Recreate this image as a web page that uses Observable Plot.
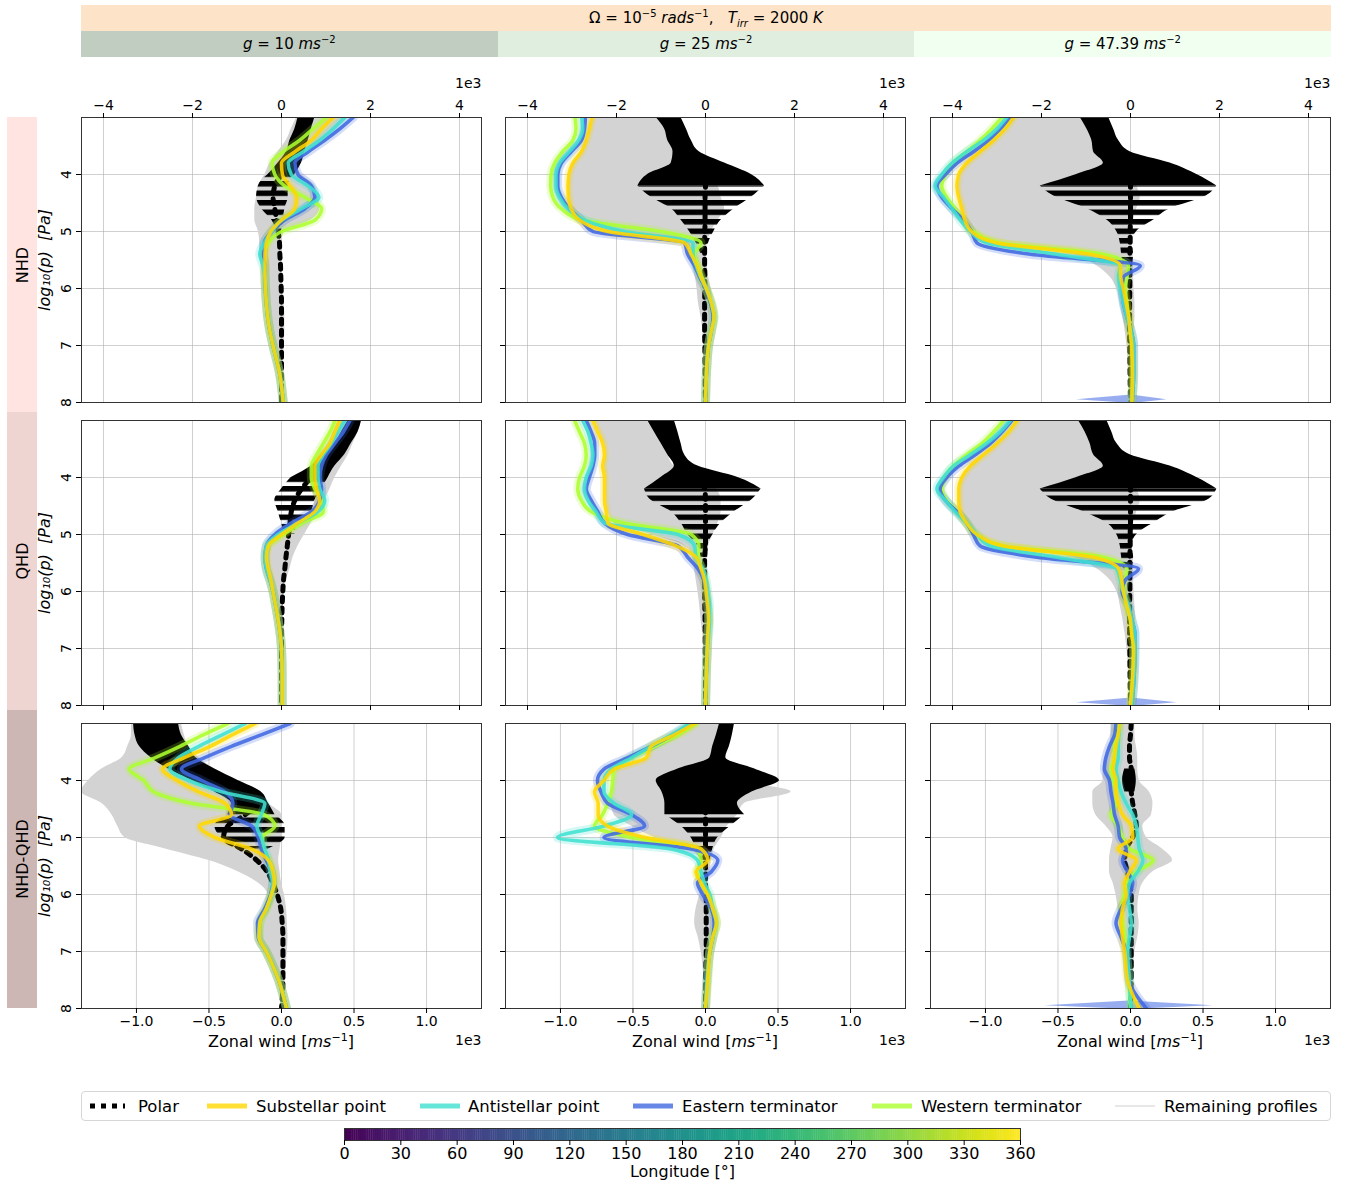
<!DOCTYPE html>
<html><head><meta charset="utf-8">
<script src="https://cdn.jsdelivr.net/npm/d3@7"></script>
<script src="https://cdn.jsdelivr.net/npm/@observablehq/plot@0.6"></script>
<style>
body{margin:0;background:#fff;font-family:"DejaVu Sans",sans-serif;color:#000;}
#root{position:relative;width:1359px;height:1186px;overflow:hidden;background:#fff;}
.band{position:absolute;display:flex;align-items:center;justify-content:center;font-size:15px;}
.band sup,.band sub{font-size:10px;line-height:0;}
.rowlab{position:absolute;left:7px;width:30px;}
.rowlab span{position:absolute;left:50%;top:50%;transform:translate(-50%,-50%) rotate(-90deg);white-space:nowrap;font-size:16px;}
.plotbox{position:absolute;}
.plotbox svg{overflow:visible;}
.xlab{position:absolute;font-size:16px;white-space:nowrap;transform:translateX(-50%);}
.xlab sup{font-size:11px;line-height:0;}
.leg{position:absolute;font-size:16.5px;white-space:nowrap;top:50%;transform:translateY(-50%);}
.sw{position:absolute;top:50%;transform:translateY(-50%);}
</style></head>
<body>
<svg width="0" height="0" style="position:absolute"><defs>
<pattern id="stripes" patternUnits="userSpaceOnUse" width="12" height="9.5"><rect x="0" y="0" width="12" height="5.5" fill="black"/></pattern>
</defs></svg>
<div id="root"></div>
<script>
// ---------- data (zonal wind in m/s, pressure levels in log10(p [Pa])) ----------
const levels = [3.0,3.2,3.4,3.6,3.8,4.0,4.2,4.4,4.6,4.8,5.0,5.2,5.4,5.6,5.8,6.0,6.25,6.5,6.75,7.0,7.5,8.0];

// NHD, g = 10
const nhd_g10_sub   = [1160,900,670,300,0,20,190,340,300,0,-240,-340,-370,-370,-370,-360,-340,-310,-260,-190,-40,40];
const nhd_g10_anti  = [1420,1160,860,490,150,220,600,840,450,0,-220,-390,-490,-410,-370,-360,-340,-310,-260,-190,-40,40];
const nhd_g10_east  = [1610,1310,970,600,300,370,670,750,520,70,-220,-390,-410,-370,-370,-360,-340,-310,-260,-190,-40,40];
const nhd_g10_west  = [1010,710,410,40,-210,-150,70,520,900,750,0,-300,-390,-370,-370,-360,-340,-310,-260,-190,-40,40];
const nhd_g10_polar = [520,450,340,260,150,0,-150,-190,-150,-110,-75,-45,-37,-22,-15,-7,0,0,0,0,0,0];
const nhd_g10_grayLo = [340,220,110,-75,-260,-370,-520,-560,-600,-600,-520,-490,-490,-450,-420,-410,-375,-340,-270,-190,-50,-15];
const nhd_g10_grayHi = [1500,1200,900,520,300,450,750,820,860,670,75,0,0,0,20,40,60,75,75,60,40,40];
const nhd_g10_blackLo = [370,300,190,110,-75,-300,-520,-560,-450,-220,-110,null,null,null,null,null,null,null,null,null,null,null];
const nhd_g10_blackHi = [750,670,600,520,450,300,150,150,75,40,0,null,null,null,null,null,null,null,null,null,null,null];

// NHD, g = 25
const nhd_g25_sub   = [-2550,-2610,-2680,-2790,-2980,-3070,-3090,-3080,-3020,-2830,-2190,-470,-320,-190,-100,15,130,190,130,70,20,0];
const nhd_g25_anti  = [-2780,-2760,-2850,-3060,-3280,-3360,-3360,-3280,-3090,-2720,-1820,-280,-280,-210,-110,15,130,190,130,70,20,0];
const nhd_g25_east  = [-2700,-2720,-2790,-3020,-3240,-3320,-3320,-3240,-3060,-2790,-2530,-470,-400,-250,-130,0,110,170,130,70,20,0];
const nhd_g25_west  = [-2930,-2910,-2980,-3210,-3390,-3470,-3480,-3430,-3240,-2790,-1000,-100,-250,-170,-80,15,130,190,130,70,20,0];
const nhd_g25_polar = [-850,-700,-550,-320,-100,0,0,-10,-10,-10,-15,-20,-20,-20,-15,-15,-20,-20,-20,-15,-10,0];
const nhd_g25_grayLo = [-2550,-2610,-2680,-2790,-2980,-3070,-3090,-3080,-3020,-2830,-2190,-470,-360,-290,-230,-190,-160,-100,-60,-40,-30,0];
const nhd_g25_grayHi = [-1070,-920,-810,-700,-400,0,280,350,430,280,130,40,20,40,70,130,160,190,130,70,20,0];
const nhd_g25_blackLo = [-1110,-920,-850,-730,-770,-1300,-1520,-1220,-770,-550,-360,-210,-100,null,null,null,null,null,null,null,null,null];
const nhd_g25_blackHi = [-550,-430,-320,-140,430,1030,1330,1030,650,350,190,70,20,null,null,null,null,null,null,null,null,null];

// NHD, g = 47.39
const nhd_g47_sub   = [-2630,-2820,-3080,-3380,-3680,-3860,-3900,-3860,-3790,-3720,-3570,-3000,-910,-230,-220,-160,-100,-45,-7,30,45,30];
const nhd_g47_anti  = [-2780,-3000,-3300,-3680,-4010,-4240,-4390,-4200,-4010,-3820,-3600,-3230,-1660,-230,-270,-230,-160,-80,15,70,70,30];
const nhd_g47_east  = [-2700,-2930,-3190,-3530,-3900,-4160,-4350,-4240,-4010,-3750,-3570,-3450,-2250,220,-160,-190,-160,-80,15,70,70,30];
const nhd_g47_west  = [-2890,-3120,-3380,-3680,-3980,-4160,-4240,-4130,-3940,-3750,-3530,-2930,-610,-45,-80,-120,-80,-45,-7,30,45,30];
const nhd_g47_polar = [-830,-680,-570,-310,-80,0,0,0,0,0,-7,-7,-15,-15,-15,-15,-20,-20,-20,-15,-10,0];
const nhd_g47_grayLo = [-2630,-2820,-3080,-3380,-3680,-3860,-3900,-3860,-3790,-3720,-3570,-3000,-1300,-760,-460,-310,-230,-170,-120,-80,-45,0];
const nhd_g47_grayHi = [-1090,-940,-830,-750,-310,0,140,220,140,70,30,30,60,70,70,80,100,100,80,80,70,30];
const nhd_g47_blackLo = [-1130,-980,-870,-830,-610,-1210,-2030,-1660,-980,-530,-310,-230,-200,-160,null,null,null,null,null,null,null,null];
const nhd_g47_blackHi = [-490,-380,-270,-10,890,1490,1940,1640,890,520,140,30,70,30,null,null,null,null,null,null,null,null];
const nhd_g47_spikeLo = [20,-1210,-300];
const nhd_g47_spikeHi = [20,820,250];

// QHD, g = 10
const qhd_g10_sub   = [1310,1200,1090,900,750,750,790,860,750,370,0,-300,-340,-300,-240,-190,-130,-75,-30,0,15,15];
const qhd_g10_anti  = [1420,1270,1120,940,820,820,860,970,820,370,-75,-340,-370,-340,-260,-190,-130,-75,-30,0,15,15];
const qhd_g10_east  = [1540,1390,1200,1010,900,860,900,860,670,220,-150,-340,-370,-340,-260,-190,-130,-75,-30,0,15,15];
const qhd_g10_west  = [1200,1090,940,790,670,670,750,900,940,450,40,-300,-370,-340,-260,-190,-130,-75,-30,0,15,15];
const qhd_g10_polar = [1650,1500,1350,1120,900,670,450,300,220,190,160,130,100,75,45,30,15,7,0,0,0,0];
const qhd_g10_grayLo = [1270,1160,1050,860,670,640,670,750,670,300,-75,-340,-390,-340,-260,-190,-110,-60,-22,0,0,0];
const qhd_g10_grayHi = [1800,1720,1610,1500,1350,1200,1090,970,860,670,520,370,260,190,110,75,40,20,0,0,15,15];
const qhd_g10_blackLo = [1500,1350,1200,900,670,220,0,-150,-75,0,75,null,null,null,null,null,null,null,null,null,null,null];
const qhd_g10_blackHi = [1800,1720,1570,1420,1200,1050,900,750,670,370,300,null,null,null,null,null,null,null,null,null,null,null];

// QHD, g = 25
const qhd_g25_sub   = [-2530,-2420,-2310,-2270,-2310,-2270,-2270,-2270,-2230,-2190,-1400,-660,-210,-100,-22,15,50,70,50,40,15,0];
const qhd_g25_anti  = [-2760,-2640,-2570,-2530,-2570,-2680,-2720,-2640,-2460,-2270,-620,-250,-210,-60,15,50,90,90,70,40,15,0];
const qhd_g25_east  = [-2680,-2570,-2490,-2490,-2530,-2610,-2680,-2570,-2420,-2270,-1750,-620,-400,-170,-40,15,50,70,50,40,15,0];
const qhd_g25_west  = [-2940,-2830,-2720,-2680,-2720,-2830,-2870,-2790,-2570,-1820,-320,-150,-170,-100,-22,15,50,70,50,40,15,0];
const qhd_g25_polar = [-1000,-880,-770,-660,-430,-170,-20,0,0,0,0,0,-20,-20,-20,-20,-15,-10,-7,-7,0,0];
const qhd_g25_grayLo = [-2490,-2380,-2270,-2230,-2270,-2230,-2230,-2230,-2190,-2050,-1220,-470,-290,-250,-210,-170,-130,-100,-60,-40,-20,0];
const qhd_g25_grayHi = [-1300,-1150,-1000,-850,-700,0,250,350,350,280,170,70,40,50,70,90,110,90,70,40,15,0];
const qhd_g25_blackLo = [-1300,-1150,-1000,-850,-700,-1000,-1370,-1220,-770,-550,-400,-170,-100,null,null,null,null,null,null,null,null,null];
const qhd_g25_blackHi = [-700,-620,-550,-470,-170,730,1250,1030,650,350,170,50,50,null,null,null,null,null,null,null,null,null];

// QHD, g = 47.39
const qhd_g47_sub   = [-2550,-2740,-3000,-3300,-3600,-3790,-3860,-3860,-3830,-3680,-3450,-2850,-830,-270,-200,-160,-80,0,30,70,50,0];
const qhd_g47_anti  = [-2700,-2930,-3230,-3600,-3980,-4200,-4350,-4160,-3940,-3680,-3450,-3150,-1660,-310,-230,-160,-45,30,100,100,80,30];
const qhd_g47_east  = [-2670,-2890,-3150,-3490,-3860,-4130,-4280,-4160,-3900,-3680,-3530,-3380,-2100,180,-120,-190,-45,30,100,100,80,30];
const qhd_g47_west  = [-2850,-3080,-3340,-3680,-3980,-4160,-4240,-4130,-3900,-3680,-3490,-2850,-610,-80,-120,-160,-80,0,30,70,50,0];
const qhd_g47_polar = [-830,-680,-570,-310,-80,0,0,0,0,0,-7,-7,-15,-15,-15,-15,-20,-20,-20,-15,-10,0];
const qhd_g47_grayLo = [-2550,-2740,-3000,-3300,-3600,-3790,-3860,-3860,-3830,-3680,-3450,-2850,-1300,-760,-460,-310,-230,-170,-120,-80,-45,0];
const qhd_g47_grayHi = [-1130,-980,-870,-750,-310,0,140,220,140,70,30,30,60,70,70,80,100,110,110,100,80,30];
const qhd_g47_blackLo = [-1170,-1020,-910,-830,-610,-1210,-2030,-1730,-1060,-530,-310,-230,-200,-160,null,null,null,null,null,null,null,null];
const qhd_g47_blackHi = [-530,-420,-310,-10,890,1490,1940,1720,960,520,140,30,70,30,null,null,null,null,null,null,null,null];
const qhd_g47_spikeLo = [20,-1210,-300];
const qhd_g47_spikeHi = [20,1040,300];

// NHD-QHD, g = 10
const dif_g10_sub   = [-180,-340,-490,-670,-820,-720,-570,-390,-345,-565,-460,-210,-90,-60,-50,-70,-105,-150,-155,-105,-20,35];
const dif_g10_anti  = [-250,-410,-570,-710,-770,-640,-410,-115,-140,-170,-140,-115,-90,-75,-60,-70,-105,-150,-155,-105,-20,35];
const dif_g10_east  = [60,-140,-345,-530,-690,-550,-390,-335,-355,-205,-160,-140,-105,-70,-60,-75,-115,-165,-160,-105,-20,35];
const dif_g10_west  = [-370,-540,-700,-870,-1050,-950,-880,-620,-120,-45,-130,-130,-90,-60,-50,-70,-105,-150,-155,-105,-20,35];
const dif_g10_polar = [-870,-840,-800,-710,-600,-460,-300,-180,-250,-370,-400,-275,-170,-100,-60,-30,-5,5,10,10,10,0];
const dif_g10_grayLo = [-1035,-1035,-1060,-1100,-1240,-1330,-1380,-1240,-1170,-1130,-1080,-800,-505,-300,-160,-95,-125,-170,-165,-115,-20,0];
const dif_g10_grayHi = [-690,-670,-640,-570,-460,-320,-140,-90,0,0,0,-10,-20,-10,0,20,35,40,45,40,25,10];
const dif_g10_blackLo = [-1020,-1010,-980,-900,-780,-620,-460,-345,-370,-460,-415,-300,null,null,null,null,null,null,null,null,null,null];
const dif_g10_blackHi = [-710,-690,-640,-590,-460,-300,-140,-90,-45,25,25,-90,null,null,null,null,null,null,null,null,null,null];

// NHD-QHD, g = 25
const dif_g25_sub   = [-75,-215,-375,-410,-630,-700,-765,-740,-740,-675,-420,-30,15,-65,-30,15,50,75,50,30,15,0];
const dif_g25_anti  = [-110,-235,-375,-510,-650,-700,-700,-630,-510,-700,-1020,-235,-55,-30,-7,30,50,75,50,30,10,0];
const dif_g25_east  = [-100,-225,-375,-535,-700,-745,-720,-675,-510,-420,-700,-100,85,40,-55,-20,40,60,50,30,10,0];
const dif_g25_west  = [-65,-190,-350,-510,-630,-640,-650,-675,-710,-765,-510,-55,-30,-55,-30,15,50,75,50,30,15,0];
const dif_g25_polar = [150,130,110,85,40,30,15,5,0,0,0,0,0,0,0,5,5,5,5,5,0,0];
const dif_g25_grayLo = [-75,-215,-375,-400,-610,-630,-650,-650,-630,-510,-350,-100,-40,-40,-30,-40,-65,-75,-50,-30,-10,0];
const dif_g25_grayHi = [100,80,60,40,110,220,590,270,220,150,110,60,40,30,20,40,60,85,60,40,20,5];
const dif_g25_blackLo = [97,75,50,30,-190,-340,-300,-280,-280,-170,-100,-65,-30,null,null,null,null,null,null,null,null,null];
const dif_g25_blackHi = [200,185,165,140,340,510,320,220,270,175,85,50,30,null,null,null,null,null,null,null,null,null];

// NHD-QHD, g = 47.39
const dif_g47_sub   = [-75,-85,-100,-110,-120,-100,-100,-85,-55,5,15,-85,40,-5,-40,-30,-55,-65,-55,-40,-20,60];
const dif_g47_anti  = [-75,-80,-85,-85,-100,-85,-65,-30,15,40,50,60,85,50,-7,-20,-7,5,-7,-20,-10,5];
const dif_g47_east  = [-100,-110,-145,-170,-180,-145,-135,-120,-110,-85,-75,-30,-55,-20,15,-7,-65,-100,-65,-30,-10,110];
const dif_g47_west  = [-85,-100,-110,-110,-135,-120,-100,-100,-135,-85,-55,-7,155,40,-30,-40,-65,-55,-40,-30,-10,0];
const dif_g47_polar = [5,0,-7,-7,5,-7,5,15,30,40,15,-30,-40,-20,-7,5,5,5,5,5,5,0];
const dif_g47_grayLo = [-135,-135,-145,-170,-190,-190,-260,-260,-240,-170,-120,-135,-145,-145,-120,-100,-85,-75,-55,-30,-10,-5];
const dif_g47_grayHi = [30,30,40,50,50,60,130,155,145,85,110,220,290,155,85,60,50,60,50,30,20,5];
const dif_g47_blackLo = [null,null,null,null,-40,-55,-40,null,null,null,null,null,null,null,null,null,null,null,null,null,null,null];
const dif_g47_blackHi = [null,null,null,null,30,40,30,null,null,null,null,null,null,null,null,null,null,null,null,null,null,null];
const dif_g47_spikeLo = [-10,-590,-150];
const dif_g47_spikeHi = [-10,570,150];

const spikeLevels = [7.87, 7.95, 8.0];

// axes / labels
const topTicks = [-4000,-2000,0,2000,4000];
const botTicks = [-1000,-500,0,500,1000];
const yTicks = [4,5,6,7,8];
const gridYTicks = [4,5,6,7];
const rowNames = ["NHD","QHD","NHD-QHD"];
const gravityLabels = ["10","25","47.39"];
const lonTicks = [0,30,60,90,120,150,180,210,240,270,300,330,360];
const seriesNames = ["Polar","Substellar point","Antistellar point","Eastern terminator","Western terminator","Remaining profiles"];

// colours
const colSub = "gold", colAnti = "turquoise", colEast = "royalblue", colWest = "greenyellow";

// ---------- panel table built from arrays ----------
const panels = [
 {row:0,col:0,sub:nhd_g10_sub,anti:nhd_g10_anti,east:nhd_g10_east,west:nhd_g10_west,polar:nhd_g10_polar,glo:nhd_g10_grayLo,ghi:nhd_g10_grayHi,blo:nhd_g10_blackLo,bhi:nhd_g10_blackHi,stripeFrom:4.0},
 {row:0,col:1,sub:nhd_g25_sub,anti:nhd_g25_anti,east:nhd_g25_east,west:nhd_g25_west,polar:nhd_g25_polar,glo:nhd_g25_grayLo,ghi:nhd_g25_grayHi,blo:nhd_g25_blackLo,bhi:nhd_g25_blackHi,stripeFrom:4.2},
 {row:0,col:2,sub:nhd_g47_sub,anti:nhd_g47_anti,east:nhd_g47_east,west:nhd_g47_west,polar:nhd_g47_polar,glo:nhd_g47_grayLo,ghi:nhd_g47_grayHi,blo:nhd_g47_blackLo,bhi:nhd_g47_blackHi,stripeFrom:4.2,slo:nhd_g47_spikeLo,shi:nhd_g47_spikeHi},
 {row:1,col:0,sub:qhd_g10_sub,anti:qhd_g10_anti,east:qhd_g10_east,west:qhd_g10_west,polar:qhd_g10_polar,glo:qhd_g10_grayLo,ghi:qhd_g10_grayHi,blo:qhd_g10_blackLo,bhi:qhd_g10_blackHi,stripeFrom:4.0},
 {row:1,col:1,sub:qhd_g25_sub,anti:qhd_g25_anti,east:qhd_g25_east,west:qhd_g25_west,polar:qhd_g25_polar,glo:qhd_g25_grayLo,ghi:qhd_g25_grayHi,blo:qhd_g25_blackLo,bhi:qhd_g25_blackHi,stripeFrom:4.2},
 {row:1,col:2,sub:qhd_g47_sub,anti:qhd_g47_anti,east:qhd_g47_east,west:qhd_g47_west,polar:qhd_g47_polar,glo:qhd_g47_grayLo,ghi:qhd_g47_grayHi,blo:qhd_g47_blackLo,bhi:qhd_g47_blackHi,stripeFrom:4.2,slo:qhd_g47_spikeLo,shi:qhd_g47_spikeHi},
 {row:2,col:0,sub:dif_g10_sub,anti:dif_g10_anti,east:dif_g10_east,west:dif_g10_west,polar:dif_g10_polar,glo:dif_g10_grayLo,ghi:dif_g10_grayHi,blo:dif_g10_blackLo,bhi:dif_g10_blackHi,stripeFrom:4.6},
 {row:2,col:1,sub:dif_g25_sub,anti:dif_g25_anti,east:dif_g25_east,west:dif_g25_west,polar:dif_g25_polar,glo:dif_g25_grayLo,ghi:dif_g25_grayHi,blo:dif_g25_blackLo,bhi:dif_g25_blackHi,stripeFrom:4.6},
 {row:2,col:2,sub:dif_g47_sub,anti:dif_g47_anti,east:dif_g47_east,west:dif_g47_west,polar:dif_g47_polar,glo:dif_g47_grayLo,ghi:dif_g47_grayHi,blo:dif_g47_blackLo,bhi:dif_g47_blackHi,stripeFrom:9,slo:dif_g47_spikeLo,shi:dif_g47_spikeHi}
];

// ---------- layout ----------
const root = document.getElementById("root");
const FW = 400, FH = 285;
const colLeft = [81, 505, 930];
const rowTop = [117, 420, 723];
const minus = s => s.replace("-", "\u2212");
const curve = "monotone-y";

function el(tag, cls, style, html) {
  const e = document.createElement(tag);
  if (cls) e.className = cls;
  if (style) e.setAttribute("style", style);
  if (html != null) e.innerHTML = html;
  root.appendChild(e);
  return e;
}

// header bands (content wrapped in a single span so sup/sub keep their baseline)
el("div","band","left:81px;top:5px;width:1250px;height:26px;background:#fde4c8;",
   "<span>Ω = 10<sup>−5</sup> <i>rads</i><sup>−1</sup>,&nbsp;&nbsp;&nbsp;<i>T</i><sub><i>irr</i></sub> = 2000 <i>K</i></span>");
const gCols = ["#c1cdc1","#e0eee0","#f0fff0"];
gravityLabels.forEach((g,i) => {
  el("div","band",`left:${81+i*1250/3}px;top:31px;width:${1250/3}px;height:26px;background:${gCols[i]};`,
     `<span><i>g</i> = ${g} <i>ms</i><sup>−2</sup></span>`);
});
// row labels
const rCols = ["#ffe4e1","#eed5d2","#cdb7b5"];
const rTops = [117,412,710], rH = [295,298,298];
rowNames.forEach((r,i) => {
  el("div","rowlab",`top:${rTops[i]}px;height:${rH[i]}px;background:${rCols[i]};`, `<span>${r}</span>`);
});

function buildPanel(d) {
  const rows = levels.map((p,i) => ({p, sub:d.sub[i], anti:d.anti[i], east:d.east[i], west:d.west[i],
     polar:d.polar[i], glo:d.glo[i], ghi:d.ghi[i], blo:d.blo[i], bhi:d.bhi[i]}));
  const hasB = r => r.blo != null && r.bhi != null;
  const solid = rows.filter(r => hasB(r) && r.p <= d.stripeFrom + 1e-9);
  const striped = rows.filter(r => hasB(r) && r.p >= d.stripeFrom - 1e-9);
  const bottomRow = d.row === 2;
  const xt = bottomRow ? botTicks : topTicks;
  const mL = 60, mR = 20, mT = d.row === 0 ? 50 : 10, mB = bottomRow ? 45 : 10;
  const lineOrder = [["west",colWest],["east",colEast],["anti",colAnti],["sub",colSub]];
  const marks = [
    Plot.gridX(xt, {stroke:"#b0b0b0", strokeOpacity:0.75, strokeWidth:0.8}),
    Plot.gridY(gridYTicks, {stroke:"#b0b0b0", strokeOpacity:0.75, strokeWidth:0.8}),
    Plot.areaX(rows, {y:"p", x1:"glo", x2:"ghi", fill:"#d3d3d3", curve, clip:true}),
    Plot.areaX(solid, {y:"p", x1:"blo", x2:"bhi", fill:"black", curve, clip:true}),
    Plot.areaX(striped, {y:"p", x1:"blo", x2:"bhi", fill:"url(#stripes)", curve, clip:true}),
    Plot.lineX(rows, {x:"polar", y:"p", stroke:"black", strokeWidth:5, strokeDasharray:"5,6", curve, clip:true})
  ];
  if (d.slo) {
    const sp = spikeLevels.map((p,i) => ({p, lo:d.slo[i], hi:d.shi[i]}));
    marks.push(Plot.areaX(sp, {y:"p", x1:"lo", x2:"hi", fill:colEast, fillOpacity:0.55, clip:true}));
  }
  lineOrder.forEach(([k,c]) => marks.push(Plot.lineX(rows, {x:k, y:"p", stroke:c, strokeWidth:9, strokeOpacity:0.22, curve, clip:true})));
  lineOrder.forEach(([k,c]) => marks.push(Plot.lineX(rows, {x:k, y:"p", stroke:c, strokeWidth:3.6, strokeOpacity:0.88, curve, clip:true})));
  marks.push(Plot.frame({stroke:"#333", strokeWidth:1}));
  marks.push(Plot.axisY(yTicks, {anchor:"left", tickSize:5, tickFormat:() => "", label:null}));
  if (d.col === 0) {
    marks.push(Plot.text(yTicks, {y:d => d, frameAnchor:"left", dx:-15, rotate:-90, text:d => String(d), textAnchor:"middle", lineAnchor:"middle", fontSize:14}));
    marks.push(Plot.text(["log\u2081\u2080(p)  [Pa]"], {frameAnchor:"left", dx:-37, rotate:-90, textAnchor:"middle", lineAnchor:"middle", fontSize:16, fontStyle:"italic"}));
  }
  if (d.row === 0) {
    marks.push(Plot.axisX(xt, {anchor:"top", tickSize:5, tickPadding:3, tickFormat:v => minus(String(v/1000)), fontSize:14, label:null}));
    marks.push(Plot.text(["1e3"], {frameAnchor:"top-right", dy:-34, textAnchor:"end", lineAnchor:"middle", fontSize:14}));
  } else if (d.row === 1) {
    marks.push(Plot.axisX(topTicks, {anchor:"bottom", tickSize:5, tickFormat:() => "", label:null}));
  } else {
    marks.push(Plot.axisX(xt, {anchor:"bottom", tickSize:5, tickPadding:3, tickFormat:v => minus((v/1000).toFixed(1)), fontSize:14, label:null}));
    marks.push(Plot.text(["1e3"], {frameAnchor:"bottom-right", dy:32, textAnchor:"end", lineAnchor:"middle", fontSize:14}));
  }
  const svg = Plot.plot({
    width: FW + mL + mR, height: FH + mT + mB,
    marginLeft: mL, marginRight: mR, marginTop: mT, marginBottom: mB,
    x: {domain: bottomRow ? [-1379, 1379] : [-4494, 4494]},
    y: {domain: [3, 8], reverse: true},
    style: {fontFamily: "DejaVu Sans", fontSize: "14px", background: "transparent", overflow: "visible", color:"#000"},
    marks
  });
  const box = el("div","plotbox",`left:${colLeft[d.col]-mL}px;top:${rowTop[d.row]-mT}px;`);
  box.appendChild(svg);
  if (bottomRow) {
    el("div","xlab",`left:${colLeft[d.col]+FW/2}px;top:${rowTop[2]+FH+24}px;`,
       "Zonal wind [<i>ms</i><sup>−1</sup>]");
  }
}
panels.forEach(buildPanel);

// ---------- legend ----------
const legend = el("div","", "position:absolute;left:81px;top:1091px;width:1250px;height:30px;border:1px solid #d6d6d6;border-radius:4px;box-sizing:border-box;");
const legItems = [
  {sx:7, tx:56, kind:"polar"},
  {sx:124, tx:174, color:colSub},
  {sx:337, tx:386, color:colAnti},
  {sx:550, tx:600, color:colEast},
  {sx:789, tx:839, color:colWest},
  {sx:1032, tx:1082, color:"#cfcfcf", thin:true}
];
legItems.forEach((it,i) => {
  const sw = document.createElementNS("http://www.w3.org/2000/svg","svg");
  sw.setAttribute("width","42"); sw.setAttribute("height","12");
  sw.setAttribute("class","sw"); sw.style.left = it.sx + "px";
  const ln = document.createElementNS("http://www.w3.org/2000/svg","line");
  ln.setAttribute("x1","1"); ln.setAttribute("x2","41"); ln.setAttribute("y1","6"); ln.setAttribute("y2","6");
  if (it.kind === "polar") {
    ln.setAttribute("stroke","black"); ln.setAttribute("stroke-width","5"); ln.setAttribute("stroke-dasharray","5,6");
    ln.setAttribute("x2","36");
  } else {
    ln.setAttribute("stroke", it.color); ln.setAttribute("stroke-width", it.thin ? "1.2" : "5");
    ln.setAttribute("stroke-opacity", it.thin ? "1" : "0.8");
  }
  sw.appendChild(ln); legend.appendChild(sw);
  const t = document.createElement("div"); t.className = "leg"; t.style.left = it.tx + "px";
  t.textContent = seriesNames[i]; legend.appendChild(t);
});

// ---------- colorbar ----------
const cbW = 676, cbH = 12, cbL = 344, cbT = 1128;
const lonSteps = d3.range(0, 360, 1);
const cb = Plot.plot({
  width: cbW + 60, height: cbH + 60, marginLeft: 30, marginRight: 30, marginTop: 0, marginBottom: 60,
  x: {domain: [0, 360]}, y: {domain: [0, 1], axis: null},
  color: {type: "linear", scheme: "viridis", domain: [0, 360]},
  style: {fontFamily: "DejaVu Sans", fontSize: "16px", background: "transparent", overflow: "visible"},
  marks: [
    Plot.rectY(lonSteps, {x1: d => d, x2: d => d + 1.2, y1: 0, y2: 1, fill: d => d + 0.5}),
    Plot.frame({stroke: "#333", strokeWidth: 1}),
    Plot.axisX(lonTicks, {anchor: "bottom", tickSize: 5, tickPadding: 2, fontSize: 16, label: null}),
    Plot.text(["Longitude [°]"], {frameAnchor: "bottom", dy: 31, lineAnchor: "middle", fontSize: 16})
  ]
});
const cbBox = el("div","plotbox",`left:${cbL-30}px;top:${cbT}px;`);
cbBox.appendChild(cb);
</script>
</body></html>
